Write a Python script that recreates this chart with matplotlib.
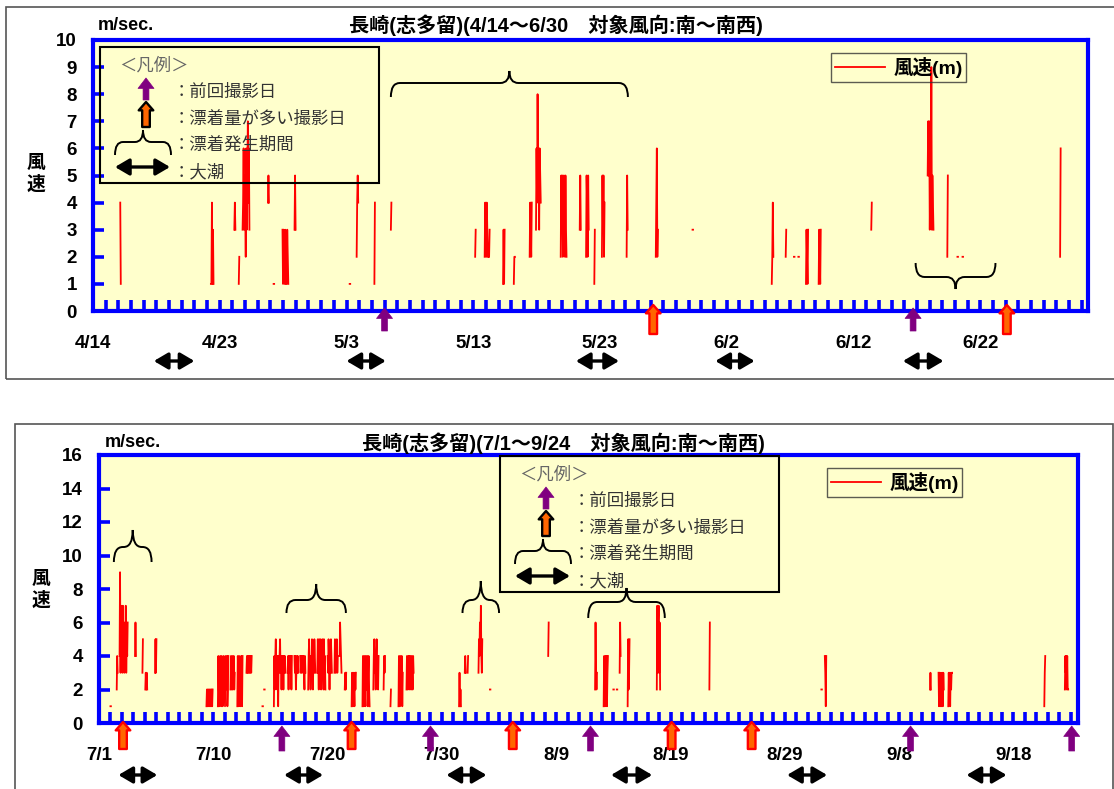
import numpy as np
import matplotlib.pyplot as plt
from matplotlib.patches import Rectangle, FancyArrowPatch, PathPatch, ArrowStyle
from matplotlib.path import Path

plt.rcParams['font.family'] = ['Liberation Sans', 'Noto Sans CJK JP', 'DejaVu Sans']

W, H = 1114, 789

# ---------------- data ----------------
# wind speed runs: (start day counted from first date, hourly values m/s)
top_runs = [
    (2.15, [4, 1]),
    (9.30, [1, 1, 4, 1, 3, 1]),
    (11.15, [3, 4, 3]),
    (11.50, [1, 2]),
    (11.80, [3, 4, 6, 3, 5, 4, 2, 6, 3, 5, 7, 4, 6, 3]),
    (13.80, [4, 5, 4]),
    (14.25, [1, 1]),
    (14.95, [3, 1, 3, 2, 1, 3, 1, 2, 1, 3, 2, 1]),
    (15.90, [3, 5, 3]),
    (20.25, [1, 1]),
    (20.80, [2, 4, 5, 4]),
    (22.20, [1, 4]),
    (23.50, [3, 4]),
    (30.15, [2, 3]),
    (30.90, [2, 4, 3, 2, 4, 3, 2]),
    (31.25, [2, 3]),
    (32.35, [1, 3, 1, 3]),
    (33.20, [1, 2, 2]),
    (34.45, [2, 4, 3, 2, 4]),
    (34.95, [3, 6, 4, 8, 5, 6, 3, 6, 5, 4]),
    (36.90, [2, 5, 3, 5, 2, 4, 5, 3, 2, 5, 3, 2]),
    (38.40, [3, 5, 3]),
    (38.90, [2, 5, 4, 2, 5, 3]),
    (39.55, [1, 3]),
    (40.15, [2, 5, 3, 5, 2, 4]),
    (42.10, [2, 5, 3]),
    (44.40, [2, 4, 6, 2, 3]),
    (47.30, [3, 3]),
    (53.55, [1, 2, 4, 2]),
    (54.65, [2, 3]),
    (55.30, [2, 2]),
    (55.65, [2, 2]),
    (56.25, [1, 3, 2, 1, 3]),
    (57.25, [1, 3, 2, 1, 3]),
    (61.40, [3, 4]),
    (65.85, [5, 7, 5, 7, 3, 5, 4, 9, 3, 5, 4, 3]),
    (67.40, [2, 5]),
    (68.00, [0, 0]),
    (68.20, [2, 2]),
    (68.60, [2, 2]),
    (76.30, [2, 6]),
]
bottom_runs = [
    (1.00, [1, 1]),
    (1.55, [2, 4, 3]),
    (1.80, [4, 9, 3, 7, 4, 6, 3, 7, 4, 5, 3, 6, 4, 7, 3, 5, 4, 6]),
    (3.15, [4, 6, 4]),
    (3.80, [3, 5]),
    (4.05, [2, 3, 2, 3, 2]),
    (4.90, [3, 5, 3, 5]),
    (9.40, [1, 2, 1, 2, 1, 2, 1, 2, 1, 2, 1, 2, 1, 2]),
    (10.40, [1, 4, 2, 1, 3, 4, 2, 1, 4, 3, 1, 2, 4, 3, 2, 1, 4, 2, 3, 4, 1, 2, 4]),
    (11.50, [2, 4, 3, 2, 4, 2, 3, 4, 2, 3]),
    (12.10, [1, 4, 3, 1, 4, 2, 1, 3, 4, 2, 1, 4]),
    (12.90, [3, 4, 3, 4, 3, 4, 3, 4, 3, 4, 3, 4]),
    (14.30, [1, 1]),
    (14.45, [2, 2]),
    (15.30, [1, 4, 2, 4, 5, 3, 4, 2, 4, 1, 4, 3, 4, 5, 3, 4, 2, 4, 3, 4, 2, 4, 3, 4, 3]),
    (16.50, [3, 4, 2, 4, 3, 4, 3, 4, 2, 4]),
    (17.10, [4, 3, 4, 2, 3, 4, 3, 4, 3]),
    (17.60, [4, 3, 4, 3, 4, 4, 3, 4, 3, 2, 4, 3]),
    (18.30, [2, 4, 5, 3, 4, 2, 4, 3, 5, 4, 2, 4, 3, 5, 4, 3]),
    (19.10, [3, 5, 4, 2, 5, 3, 4, 5, 2, 4, 3, 5, 4, 2, 5, 3, 4, 2]),
    (20.00, [4, 3, 5, 4, 2, 4, 3, 5, 4, 3]),
    (20.60, [3, 5, 4, 3, 4, 5, 3, 4]),
    (21.05, [4, 6, 5, 4, 3]),
    (21.50, [2, 3, 2, 3]),
    (22.10, [1, 3, 2, 1, 3, 2, 1, 3, 2, 3]),
    (23.05, [1, 4, 3, 1, 4, 2, 1, 4, 3, 2, 4, 1, 3, 4, 2, 1]),
    (24.00, [2, 4, 5, 3, 4, 2, 4, 5, 3, 4, 2, 4]),
    (24.90, [2, 4, 3, 4]),
    (25.50, [1, 2]),
    (26.20, [1, 4, 2, 1, 4, 3, 2, 4, 1, 3]),
    (26.90, [2, 4, 3, 2, 4, 3, 4, 2, 4, 3, 2, 4, 3, 2, 4, 3]),
    (31.50, [1, 3, 1, 2, 1]),
    (32.00, [3, 4, 3]),
    (32.25, [3, 4]),
    (33.20, [3, 5, 4, 6, 5, 7, 4, 3, 5]),
    (34.20, [2, 2]),
    (39.30, [4, 6]),
    (43.40, [2, 6, 3, 2, 3]),
    (44.15, [1, 4, 3, 1, 4, 2, 4, 1, 3, 4]),
    (45.00, [2, 2]),
    (45.30, [2, 2]),
    (45.55, [3, 6, 4]),
    (46.25, [1, 5, 2, 3, 5]),
    (48.80, [2, 7, 3, 6, 7, 3, 6, 2]),
    (53.40, [2, 6]),
    (63.20, [2, 2]),
    (63.50, [4, 3, 1, 4]),
    (72.70, [2, 3, 2]),
    (73.45, [3, 1, 3, 2, 1, 3, 1, 2, 3, 1, 3, 2]),
    (74.30, [1, 3, 2, 3, 1, 3, 2, 3, 3]),
    (82.70, [1, 3, 4]),
    (84.50, [2, 4, 3, 4, 2, 4, 2, 2]),
]

top_labels = ['4/14', '4/23', '5/3', '5/13', '5/23', '6/2', '6/12', '6/22']
bottom_labels = ['7/1', '7/10', '7/20', '7/30', '8/9', '8/19', '8/29', '9/8', '9/18']
top_ndays, bottom_ndays = 78.5, 85.65

# 前回撮影日 / 漂着量が多い撮影日 / 大潮 / 漂着発生期間  (days)
top_prev = [23.0, 64.7]
top_many = [44.2, 72.1]
top_tide = [(4.8, 8.0), (20.0, 23.1), (38.1, 41.5), (49.1, 52.2), (63.9, 67.1)]
top_drift = [(23.5, 42.2), (64.9, 71.2)]
bottom_prev = [16.0, 29.0, 43.0, 71.0, 85.1]
bottom_many = [2.1, 22.1, 36.2, 50.1, 57.1]
bottom_tide = [(1.7, 5.1), (16.2, 19.6), (30.4, 33.9), (44.8, 48.4), (60.2, 63.7), (75.9, 79.4)]
bottom_drift = [(1.3, 4.6), (16.4, 21.6), (31.8, 35.0), (42.8, 49.5)]

top_title = '長崎(志多留)(4/14～6/30　対象風向:南～南西)'
bottom_title = '長崎(志多留)(7/1～9/24　対象風向:南～南西)'
legend_items = ['：前回撮影日', '：漂着量が多い撮影日', '：漂着発生期間', '：大潮']

BG = '#FFFFCC'
BLUE = '#0000FF'
PURPLE = '#800080'
ORANGE = '#FF6600'

fig = plt.figure(figsize=(W / 100, H / 100), dpi=100)


def P(x, y):
    return (x / W, 1 - y / H)


def ftext(x, y, s, **kw):
    fig.text(x / W, 1 - y / H, s, **kw)


def frame(x0, y0, x1, y1, ec='#555555', lw=1.2):
    fig.add_artist(Rectangle(P(x0, y1), (x1 - x0) / W, (y1 - y0) / H,
                             transform=fig.transFigure, fill=False, ec=ec, lw=lw))


def brace(x0, x1, y_end, y_line, y_tip, r=9, lw=1.4):
    xm = (x0 + x1) / 2
    pts = [(x0, y_end), (x0, y_line), (x0 + r, y_line), (xm - r, y_line),
           (xm, y_line), (xm, y_tip), (xm, y_line), (xm + r, y_line),
           (x1 - r, y_line), (x1, y_line), (x1, y_end)]
    codes = [Path.MOVETO, Path.CURVE3, Path.CURVE3, Path.LINETO,
             Path.CURVE3, Path.CURVE3, Path.CURVE3, Path.CURVE3,
             Path.LINETO, Path.CURVE3, Path.CURVE3]
    fig.add_artist(PathPatch(Path([P(*p) for p in pts], codes), transform=fig.transFigure,
                             fill=False, ec='black', lw=lw))


def up_arrow(x, y_tip, y_base, kind, edge='red'):
    if kind == 'prev':
        style = ArrowStyle.Simple(head_length=7.5, head_width=11.5, tail_width=4.2)
        fc, ec, lw = PURPLE, PURPLE, 0.5
    else:
        style = ArrowStyle.Simple(head_length=6, head_width=10.5, tail_width=5.5)
        fc, ec, lw = ORANGE, edge, 1.7
    fig.add_artist(FancyArrowPatch(P(x, y_base), P(x, y_tip), transform=fig.transFigure,
                                   arrowstyle=style, mutation_scale=1, fc=fc, ec=ec, lw=lw,
                                   shrinkA=0, shrinkB=0))


def tide_arrow(x0, x1, y):
    fig.add_artist(FancyArrowPatch(P(x0, y), P(x1, y), transform=fig.transFigure,
                                   arrowstyle=ArrowStyle('<|-|>', head_length=8.5, head_width=5),
                                   mutation_scale=1, color='black', lw=2.4,
                                   shrinkA=0, shrinkB=0))


def runs_to_xy(runs):
    xs, ys = [], []
    for start, vals in runs:
        xs += [start + i / 24 for i in range(len(vals))] + [np.nan]
        ys += list(vals) + [np.nan]
    return np.array(xs), np.array(ys, dtype=float)


def make_chart(box, leg_xy, runs, ymax, ystep, ndays, labels):
    x0, y0, x1, y1 = box
    ax = fig.add_axes([x0 / W, 1 - y1 / H, (x1 - x0) / W, (y1 - y0) / H])
    ax.set_facecolor(BG)
    x, y = runs_to_xy(runs)
    line, = ax.plot(x, y, color='red', lw=1.3)
    ax.set_xlim(0, ndays)
    ax.set_ylim(0, ymax)
    for s in ax.spines.values():
        s.set_color(BLUE)
        s.set_linewidth(3)
    ax.set_yticks(np.arange(0, ymax + 1, ystep))
    ax.set_xticks(np.arange(len(labels)) * 10, labels)
    ax.set_xticks(np.arange(1, int(ndays) + 1), minor=True)
    ax.tick_params(axis='both', which='both', direction='in', color=BLUE,
                   width=2.6, length=8, labelsize=13.5)
    ax.tick_params(axis='x', which='both', pad=17)
    ax.tick_params(axis='y', pad=11.5)
    for t in ax.get_xticklabels() + ax.get_yticklabels():
        t.set_fontweight('bold')
    leg = ax.legend([line], ['風速(m)'], loc='upper left', bbox_to_anchor=P(*leg_xy),
                    bbox_transform=fig.transFigure, fancybox=False, edgecolor='#333333',
                    facecolor='none', borderpad=0.2, handlelength=2.6, handletextpad=0.4,
                    borderaxespad=0, prop={'weight': 'bold', 'size': 14})
    leg.get_frame().set_linewidth(1.0)
    return ax


def day_px(ax, d):
    return ax.transData.transform((d, 0))[0]


def legend_box(x0, y0):
    fig.add_artist(Rectangle(P(x0, y0 + 136), 279 / W, 136 / H, transform=fig.transFigure,
                             fill=False, ec='black', lw=1.5))
    ftext(x0 + 19, y0 + 18, '＜凡例＞', color='#666666', fontsize=12.5, va='center')
    up_arrow(x0 + 46, y0 + 31, y0 + 53, 'prev')
    up_arrow(x0 + 46, y0 + 55, y0 + 80, 'many', edge='black')
    brace(x0 + 15, x0 + 71, y0 + 108, y0 + 95, y0 + 83, r=8)
    tide_arrow(x0 + 15, x0 + 70, y0 + 120)
    for s, dy in zip(legend_items, [45, 71, 98, 125]):
        ftext(x0 + 73, y0 + dy, s, color='#333333', fontsize=12.5, va='center')


# ---------------- top chart ----------------
frame(6, 7, 1130, 379)
ax1 = make_chart((93, 40, 1088, 311), (831, 53), top_runs, 10, 1, top_ndays, top_labels)
ftext(98, 25, 'm/sec.', fontsize=13, fontweight='bold', va='center')
ftext(556, 25, top_title, fontsize=14.5, fontweight='bold', ha='center', va='center')
ftext(36, 174, '風\n速', fontsize=13.5, fontweight='bold', ha='center', va='center',
      linespacing=1.25)
legend_box(100, 47)
for d in top_prev:
    up_arrow(day_px(ax1, d), 308, 331, 'prev')
for d in top_many:
    up_arrow(day_px(ax1, d), 305, 334, 'many')
for a, b in top_tide:
    tide_arrow(day_px(ax1, a), day_px(ax1, b), 361)
for (a, b), ys in zip(top_drift, [(97, 83, 71), (263, 277, 289)]):
    brace(day_px(ax1, a), day_px(ax1, b), *ys)

# ---------------- bottom chart ----------------
frame(15, 424, 1113, 800)
ax2 = make_chart((99, 455, 1078, 723), (827, 468), bottom_runs, 16, 2, bottom_ndays, bottom_labels)
ftext(105, 442, 'm/sec.', fontsize=13, fontweight='bold', va='center')
ftext(563, 443, bottom_title, fontsize=14.5, fontweight='bold', ha='center', va='center')
ftext(41, 590, '風\n速', fontsize=13.5, fontweight='bold', ha='center', va='center',
      linespacing=1.25)
legend_box(500, 456)
for d in bottom_prev:
    up_arrow(day_px(ax2, d), 726, 751, 'prev')
for d in bottom_many:
    up_arrow(day_px(ax2, d), 722, 749, 'many')
for a, b in bottom_tide:
    tide_arrow(day_px(ax2, a), day_px(ax2, b), 775)
for (a, b), ys in zip(bottom_drift, [(562, 547, 530), (613, 600, 584), (613, 600, 581), (618, 602, 588)]):
    brace(day_px(ax2, a), day_px(ax2, b), *ys)

fig.savefig('out.png', dpi=100)
